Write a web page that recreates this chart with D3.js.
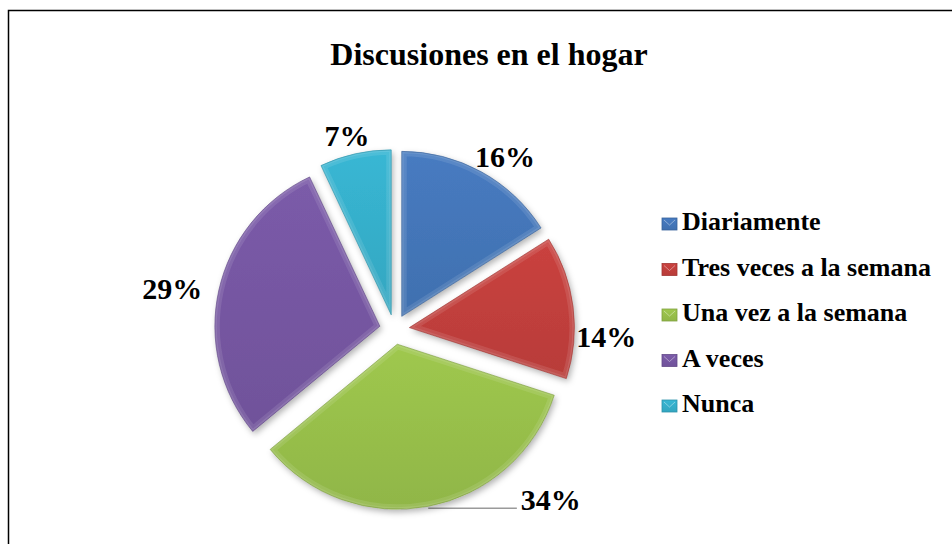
<!DOCTYPE html>
<html>
<head>
<meta charset="utf-8">
<script src="https://cdn.jsdelivr.net/npm/d3@7"></script>
<style>
  html, body { margin: 0; padding: 0; background: #fff; }
  svg { display: block; }
  text { font-family: "Liberation Serif", "Times New Roman", serif; font-weight: bold; fill: #000; }
</style>
</head>
<body>
<svg id="chart" width="952" height="544"></svg>
<script>
// ---- data ----
const title = "Discusiones en el hogar";
const categories = ["Diariamente", "Tres veces a la semana", "Una vez a la semana", "A veces", "Nunca"];
const values = [16, 14, 34, 29, 7];
const valueLabels = ["16%", "14%", "34%", "29%", "7%"];

// ---- style / layout ----
const colors = ["#4476b9", "#c23f3c", "#98c04b", "#7657a2", "#36afcb"];
const W = 952, H = 544;
const cx = 394.5, cy = 329.5, R = 165, explode = 15;
// label placement (polar: degrees clockwise from top, distance from pie centre)
const labelPolar = [[32.6, 205], [92.0, 212], [137.4, 231], [280.3, 226], [346.2, 199]];
const leaderFor = [false, false, true, false, false];

const svg = d3.select("#chart");
const defs = svg.append("defs");

// drop shadow
const f = defs.append("filter").attr("id", "shadow").attr("x", "-20%").attr("y", "-20%").attr("width", "140%").attr("height", "140%");
f.append("feDropShadow").attr("dx", 2).attr("dy", 3).attr("stdDeviation", 3).attr("flood-color", "#000").attr("flood-opacity", 0.3);

colors.forEach((c, i) => {
  const g = defs.append("linearGradient").attr("id", "grad" + i)
    .attr("x1", 0).attr("y1", 0).attr("x2", 0).attr("y2", 1);
  g.append("stop").attr("offset", "0%").attr("stop-color", d3.color(c).brighter(0.12));
  g.append("stop").attr("offset", "100%").attr("stop-color", d3.color(c).darker(0.15));
});

// border
svg.append("rect").attr("x", 8.5).attr("y", 10.5).attr("width", W + 20).attr("height", H + 20)
  .attr("fill", "none").attr("stroke", "#000").attr("stroke-width", 1.5);

// title
svg.append("text").attr("x", 489).attr("y", 65).attr("text-anchor", "middle")
  .style("font-size", "32px").text(title);

const pie = d3.pie().sort(null).value(d => d);
const arcs = pie(values);
const arc = d3.arc().innerRadius(0).outerRadius(R);

const pieG = svg.append("g").attr("transform", `translate(${cx},${cy})`);

arcs.forEach((a, i) => {
  const mid = (a.startAngle + a.endAngle) / 2;
  const ox = explode * Math.sin(mid), oy = -explode * Math.cos(mid);
  const g = pieG.append("g").attr("transform", `translate(${ox},${oy})`);
  const path = arc(a);
  defs.append("clipPath").attr("id", "clip" + i).append("path").attr("d", path);
  g.append("path").attr("d", path).attr("fill", `url(#grad${i})`).attr("filter", "url(#shadow)");
  // bevel highlight
  g.append("path").attr("d", path).attr("fill", "none")
    .attr("stroke", "#fff").attr("stroke-opacity", 0.1).attr("stroke-width", 10)
    .attr("clip-path", `url(#clip${i})`);
  g.append("path").attr("d", path).attr("fill", "none")
    .attr("stroke", "#fff").attr("stroke-opacity", 0.1).attr("stroke-width", 4)
    .attr("clip-path", `url(#clip${i})`);
  g.append("path").attr("d", path).attr("fill", "none")
    .attr("stroke", d3.color(colors[i]).darker(0.6)).attr("stroke-opacity", 0.6).attr("stroke-width", 1);
});

// value labels
arcs.forEach((a, i) => {
  const [ang, dist] = labelPolar[i];
  const rad = ang * Math.PI / 180;
  const lx = cx + dist * Math.sin(rad), ly = cy - dist * Math.cos(rad);
  const t = svg.append("text").attr("x", lx).attr("y", ly + 10).attr("text-anchor", "middle")
    .style("font-size", "30px").text(valueLabels[i]);
  if (leaderFor[i]) {
    const mid = (a.startAngle + a.endAngle) / 2;
    const sx = cx + (explode + R) * Math.sin(mid), sy = cy - (explode + R) * Math.cos(mid);
    const w = t.node().getComputedTextLength();
    svg.insert("line", "text").attr("x1", sx).attr("y1", sy + 2).attr("x2", lx - w / 2 - 4).attr("y2", sy + 2)
      .attr("stroke", "#9a9a9a").attr("stroke-width", 1.5);
  }
});

// legend
const legend = svg.append("g");
categories.forEach((c, i) => {
  const y = 230 + i * 45.5;
  legend.append("rect").attr("x", 662).attr("y", y - 12).attr("width", 15).attr("height", 12)
    .attr("fill", `url(#grad${i})`).attr("stroke", d3.color(colors[i]).darker(0.5)).attr("stroke-width", 0.8);
  legend.append("path").attr("d", `M${662 + 2},${y - 10} L${662 + 7.5},${y - 5} L${662 + 13},${y - 10}`)
    .attr("fill", "none").attr("stroke", "#fff").attr("stroke-opacity", 0.4).attr("stroke-width", 1);
  legend.append("text").attr("x", 682).attr("y", y).style("font-size", "26px").text(c);
});
</script>
</body>
</html>
